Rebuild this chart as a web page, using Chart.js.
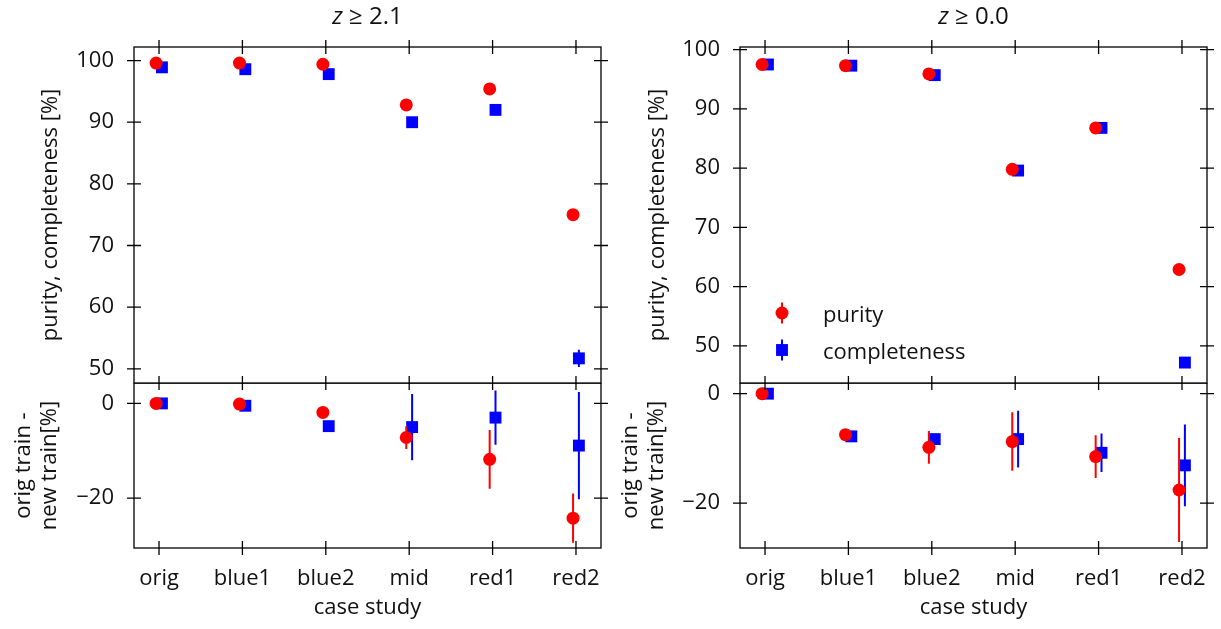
<!DOCTYPE html>
<html><head><meta charset="utf-8">
<script src="https://cdn.jsdelivr.net/npm/chart.js@4.4.1/dist/chart.umd.min.js"></script>
<style>
html,body{margin:0;padding:0;background:#fff;}
body{width:1221px;height:629px;position:relative;overflow:hidden;}
canvas{position:absolute;}
</style></head><body>
<canvas id="c1" width="610" height="384" style="left:0;top:0;width:610px;height:384px"></canvas>
<canvas id="c2" width="610" height="246" style="left:0;top:383px;width:610px;height:246px"></canvas>
<canvas id="c3" width="611" height="384" style="left:610px;top:0;width:611px;height:384px"></canvas>
<canvas id="c4" width="611" height="246" style="left:610px;top:383px;width:611px;height:246px"></canvas>
<script>
// ---------- data ----------
const categories = ['orig', 'blue1', 'blue2', 'mid', 'red1', 'red2'];
const panelTitles = ['z ≥ 2.1', 'z ≥ 0.0'];
const seriesLabels = ['purity', 'completeness'];
const topTitle = 'purity, completeness [%]';
const diffTitle = ['orig train -', 'new train[%]'];
const xTitle = 'case study';

// z >= 2.1
const purityHiZ      = [99.6, 99.6, 99.4, 92.8, 95.4, 75.0];
const purityHiZErr   = [0.1, 0.1, 0.1, 0.2, 0.2, 0.3];
const complHiZ       = [98.9, 98.6, 97.8, 90.0, 92.0, 51.7];
const complHiZErr    = [0.1, 0.1, 0.2, 0.3, 0.3, 1.4];
const purityDiffHiZ    = [0.0, -0.15, -1.9, -7.2, -11.8, -24.2];
const purityDiffHiZErr = [0.2, 0.3, 0.5, 2.4, 6.2, 5.2];
const complDiffHiZ     = [0.0, -0.5, -4.8, -5.0, -3.0, -8.9];
const complDiffHiZErr  = [0.2, 0.3, 0.5, 7.0, 5.7, 11.3];

// z >= 0.0
const purityAll      = [97.5, 97.3, 95.9, 79.8, 86.8, 62.9];
const purityAllErr   = [0.1, 0.1, 0.1, 0.2, 0.2, 0.3];
const complAll       = [97.5, 97.3, 95.7, 79.6, 86.8, 47.2];
const complAllErr    = [0.1, 0.1, 0.1, 0.2, 0.2, 0.5];
const purityDiffAll    = [0.0, -7.5, -9.8, -8.75, -11.5, -17.6];
const purityDiffAllErr = [0.2, 0.5, 3.0, 5.35, 3.9, 9.5];
const complDiffAll     = [0.0, -7.8, -8.3, -8.3, -10.8, -13.1];
const complDiffAllErr  = [0.2, 0.5, 0.6, 5.2, 3.5, 7.45];

// axis ticks and limits
const topTicks = [50, 60, 70, 80, 90, 100];
const diffTicks = [-20, 0];
const xLimits = [-0.3, 5.3];
const topHiZLimits = [47.7, 102.2];
const diffHiZLimits = [-30.5, 4.3];
const topAllLimits = [43.75, 100.45];
const diffAllLimits = [-28.2, 1.95];

// ---------- styling ----------
const FAMILY = "'Open Sans', 'DejaVu Sans', sans-serif";
const FONT = {family: FAMILY, size: 22, lineHeight: 1.2};
const TEXT = '#111';
const RED = '#ff0000', BLUE = '#0000ff';
const DODGE = 0.035;

function fmt(v) { return v < 0 ? '\u2212' + Math.abs(v) : String(v); }

function series(vals, errs, label, color, style, radius, off) {
  return {
    label, errors: errs,
    data: vals.map((v, i) => ({x: i + off, y: v})),
    backgroundColor: color, borderColor: color,
    pointStyle: style, pointRadius: radius, pointHoverRadius: radius,
    pointBorderWidth: 0, showLine: false
  };
}

const frameTicks = {
  id: 'frameTicks',
  afterDraw(chart) {
    const {ctx, chartArea: a, scales} = chart;
    ctx.save();
    ctx.strokeStyle = '#000';
    ctx.lineWidth = 1.3;
    ctx.strokeRect(a.left, a.top, a.right - a.left, a.bottom - a.top);
    const L = 7;
    ctx.beginPath();
    categories.forEach((c, i) => {
      const px = scales.x.getPixelForValue(i);
      ctx.moveTo(px, a.top - L); ctx.lineTo(px, a.top + L);
      ctx.moveTo(px, a.bottom - L); ctx.lineTo(px, a.bottom + L);
    });
    scales.y.ticks.forEach(t => {
      const py = scales.y.getPixelForValue(t.value);
      ctx.moveTo(a.left - L, py); ctx.lineTo(a.left + L, py);
      ctx.moveTo(a.right - L, py); ctx.lineTo(a.right + L, py);
    });
    ctx.stroke();
    ctx.restore();
  }
};

const errorBars = {
  id: 'errorBars',
  beforeDatasetDraw(chart, args) {
    const ds = chart.data.datasets[args.index];
    if (!ds.errors) return;
    const {ctx} = chart;
    const ys = chart.scales.y;
    ctx.save();
    ctx.strokeStyle = ds.borderColor;
    ctx.lineWidth = 2;
    ctx.beginPath();
    args.meta.data.forEach((pt, i) => {
      const v = ds.data[i].y, e = ds.errors[i];
      ctx.moveTo(pt.x, ys.getPixelForValue(v + e));
      ctx.lineTo(pt.x, ys.getPixelForValue(v - e));
    });
    ctx.stroke();
    ctx.restore();
  }
};

const zTitle = {
  id: 'zTitle',
  afterDraw(chart, args, opts) {
    if (!opts || !opts.text) return;
    const {ctx, chartArea: a} = chart;
    const v = opts.text.slice(0, 1), rest = opts.text.slice(1);
    const fi = 'italic 24px ' + FAMILY, fn = '24px ' + FAMILY;
    ctx.save();
    ctx.fillStyle = TEXT;
    ctx.textBaseline = 'alphabetic';
    ctx.font = fi; const w1 = ctx.measureText(v).width;
    ctx.font = fn; const w2 = ctx.measureText(rest).width;
    const x = (a.left + a.right) / 2 - (w1 + w2) / 2;
    const y = a.top - 23;
    ctx.font = fi; ctx.fillText(v, x, y);
    ctx.font = fn; ctx.fillText(rest, x + w1, y);
    ctx.restore();
  }
};

const pointLegend = {
  id: 'pointLegend',
  afterDraw(chart, args, opts) {
    if (!opts || !opts.show) return;
    const {ctx, chartArea: a} = chart;
    ctx.save();
    chart.data.datasets.forEach((ds, k) => {
      const x = a.left + 42, y = a.bottom - 70 + k * 37;
      ctx.strokeStyle = ds.borderColor; ctx.fillStyle = ds.backgroundColor;
      ctx.lineWidth = 2;
      ctx.beginPath(); ctx.moveTo(x, y - 10.5); ctx.lineTo(x, y + 10.5); ctx.stroke();
      ctx.beginPath();
      if (ds.pointStyle === 'rect') {
        const s = ds.pointRadius * Math.SQRT1_2;
        ctx.rect(x - s, y - s, 2 * s, 2 * s);
      } else {
        ctx.arc(x, y, ds.pointRadius, 0, Math.PI * 2);
      }
      ctx.fill();
      ctx.fillStyle = TEXT;
      ctx.font = '22px ' + FAMILY;
      ctx.textBaseline = 'alphabetic';
      ctx.fillText(ds.label, a.left + 83, y + 8.5);
    });
    ctx.restore();
  }
};

function makeChart(id, o) {
  const xScale = {
    type: 'linear', min: xLimits[0], max: xLimits[1],
    display: o.xVisible,
    afterBuildTicks: s => { s.ticks = categories.map((c, i) => ({value: i})); },
    afterFit: s => { if (o.xVisible) s.height = 81; s.paddingLeft = 0; s.paddingRight = 0; },
    grid: {display: false, drawTicks: false},
    border: {display: false},
    ticks: {padding: 17.3, autoSkip: false, maxRotation: 0, minRotation: 0, color: TEXT, font: FONT,
            callback: v => categories[v]},
    title: {display: true, text: xTitle, color: TEXT, font: FONT, padding: {top: 0, bottom: 8.3}}
  };
  const yScale = {
    type: 'linear', min: o.yLim[0], max: o.yLim[1],
    afterBuildTicks: s => { s.ticks = o.yTicks.map(v => ({value: v})); },
    afterFit: s => { s.width = o.yWidth; s.paddingTop = 0; s.paddingBottom = 0; },
    grid: {display: false, drawTicks: false},
    border: {display: false},
    ticks: {padding: 20, color: TEXT, font: FONT, callback: v => fmt(v)},
    title: {display: true, text: o.yTitle, color: TEXT, font: FONT, padding: {top: o.yTitlePad, bottom: 0}}
  };
  return new Chart(document.getElementById(id), {
    type: 'scatter',
    data: {datasets: o.datasets},
    options: {
      responsive: false, animation: false, events: [],
      layout: {padding: o.padding, autoPadding: false},
      scales: {x: xScale, y: yScale},
      plugins: {
        legend: {display: false}, tooltip: {enabled: false},
        title: {display: false},
        zTitle: {text: o.title || ''},
        pointLegend: {show: !!o.legend}
      }
    },
    plugins: [errorBars, frameTicks, zTitle, pointLegend]
  });
}

makeChart('c1', {
  datasets: [
    series(purityHiZ, purityHiZErr, seriesLabels[0], RED, 'circle', 6.5, -DODGE),
    series(complHiZ, complHiZErr, seriesLabels[1], BLUE, 'rect', 8.4, DODGE)
  ],
  yLim: topHiZLimits, yTicks: topTicks, yTitle: topTitle, yTitlePad: 37.8, yWidth: 134,
  xVisible: false, padding: {left: 0, right: 9, top: 47, bottom: 1}, title: panelTitles[0]
});
makeChart('c2', {
  datasets: [
    series(purityDiffHiZ, purityDiffHiZErr, seriesLabels[0], RED, 'circle', 6.5, -DODGE),
    series(complDiffHiZ, complDiffHiZErr, seriesLabels[1], BLUE, 'rect', 8.4, DODGE)
  ],
  yLim: diffHiZLimits, yTicks: diffTicks, yTitle: diffTitle, yTitlePad: 10.4, yWidth: 134,
  xVisible: true, padding: {left: 0, right: 9, top: 0, bottom: 0}
});
makeChart('c3', {
  datasets: [
    series(purityAll, purityAllErr, seriesLabels[0], RED, 'circle', 6.5, -DODGE),
    series(complAll, complAllErr, seriesLabels[1], BLUE, 'rect', 8.4, DODGE)
  ],
  yLim: topAllLimits, yTicks: topTicks, yTitle: topTitle, yTitlePad: 34.8, yWidth: 130,
  xVisible: false, padding: {left: 0, right: 14, top: 47, bottom: 1}, title: panelTitles[1], legend: true
});
makeChart('c4', {
  datasets: [
    series(purityDiffAll, purityDiffAllErr, seriesLabels[0], RED, 'circle', 6.5, -DODGE),
    series(complDiffAll, complDiffAllErr, seriesLabels[1], BLUE, 'rect', 8.4, DODGE)
  ],
  yLim: diffAllLimits, yTicks: diffTicks, yTitle: diffTitle, yTitlePad: 7.4, yWidth: 130,
  xVisible: true, padding: {left: 0, right: 14, top: 0, bottom: 0}
});
</script>
</body></html>
